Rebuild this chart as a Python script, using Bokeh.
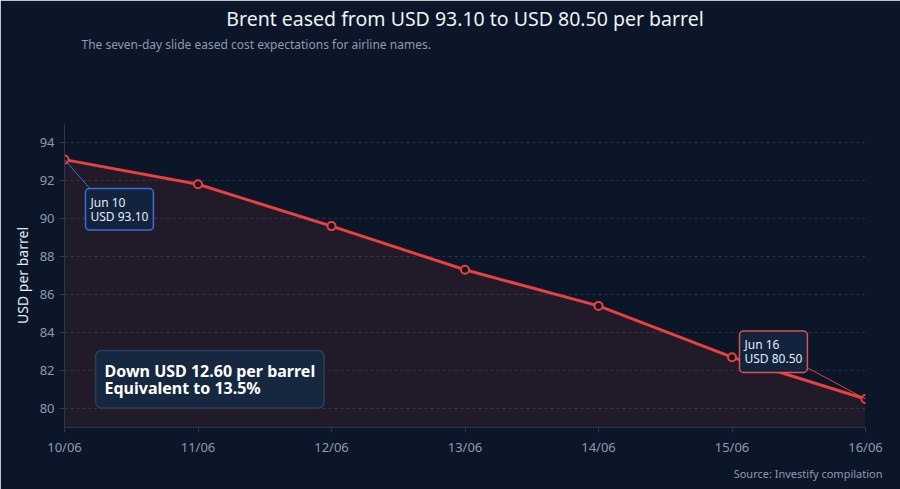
from bokeh.plotting import figure
from bokeh.models import Label, Title, FixedTicker, Range1d
from bokeh.embed import file_html
from bokeh.resources import INLINE

# Brent, USD per barrel, 10/06 -> 16/06
days = [10, 11, 12, 13, 14, 15, 16]
day_labels = ["10/06", "11/06", "12/06", "13/06", "14/06", "15/06", "16/06"]
brent = [93.10, 91.80, 89.60, 87.30, 85.40, 82.70, 80.50]
y_ticks = [80, 82, 84, 86, 88, 90, 92, 94]

BG = "#0b1628"
RED = "#e8413f"
FONT = "Noto Sans"

p = figure(width=900, height=489, output_backend="svg", toolbar_location=None,
           x_range=Range1d(10, 16), y_range=Range1d(79, 95),
           min_border_left=64, min_border_right=35, min_border_top=20, min_border_bottom=62)
p.background_fill_color = BG
p.border_fill_color = BG
# contour de la couleur du fond pour masquer le liseré clair du cadre
p.outline_line_color = BG
p.outline_line_width = 2

# espace vide entre sous-titre et graphique (le premier ajouté est le plus proche)
p.add_layout(Title(text=" ", text_font_size="1px", standoff=67), "above")
sub = Title(text="The seven-day slide eased cost expectations for airline names.",
            align="left", offset=17, text_font=FONT,
            text_font_size="12px", text_font_style="normal", text_color="#8e9aae",
            standoff=1)
p.add_layout(sub, "above")
main = Title(text="Brent eased from USD 93.10 to USD 80.50 per barrel", align="center",
             offset=-14, text_font=FONT, text_font_size="19.5px", text_font_style="normal",
             text_color="#eef2f7", standoff=4)
p.add_layout(main, "above")
src = Title(text="Source: Investify compilation", align="right", offset=-17,
            text_font=FONT, text_font_size="11px", text_font_style="normal",
            text_color="#8e9aae")
p.add_layout(src, "below")

# aire + ligne
p.varea(x=days, y1=[79] * len(days), y2=brent, fill_color=RED, fill_alpha=0.1)
p.line(days, brent, line_color=RED, line_width=3)
p.scatter(days, brent, size=8, fill_color=BG, line_color=RED, line_width=2)

# axes
p.xaxis.ticker = FixedTicker(ticks=days)
p.xaxis.major_label_overrides = dict(zip(days, day_labels))
p.yaxis.ticker = FixedTicker(ticks=y_ticks)
p.yaxis.axis_label = "USD per barrel"
for ax in (p.xaxis, p.yaxis):
    ax.axis_line_color = "#2b3a50"
    ax.major_tick_line_color = "#2b3a50"
    ax.major_tick_in = 0
    ax.major_tick_out = 5
    ax.minor_tick_line_color = None
    ax.major_label_text_color = "#8e9aae"
    ax.major_label_text_font = FONT
    ax.major_label_text_font_size = "13px"
p.yaxis.axis_label_text_color = "#e6ebf2"
p.yaxis.axis_label_text_font = FONT
p.yaxis.axis_label_text_font_size = "14px"
p.yaxis.axis_label_text_font_style = "normal"
p.xgrid.grid_line_color = None
p.ygrid.grid_line_color = "#22314a"
p.ygrid.grid_line_dash = "3 3"

# annotations
p.line([10, 10.19], [brent[0], 91.57], line_color="#3b6fd8", line_width=1)
p.add_layout(Label(x=10, y=brent[0], x_offset=21, y_offset=-29, anchor="top_left",
                   text="Jun 10\nUSD 93.10", text_color="#e6ebf2", text_font=FONT,
                   text_font_size="12px", text_line_height=0.85,
                   background_fill_color="#12233d",
                   border_line_color="#3b6fd8", border_line_width=1.5,
                   padding=5, border_radius=4))
p.line([15.55, 16], [82.2, brent[-1]], line_color=RED, line_width=1)
p.add_layout(Label(x=16, y=brent[-1], x_offset=-126, y_offset=68, anchor="top_left",
                   text="Jun 16\nUSD 80.50", text_color="#e6ebf2", text_font=FONT,
                   text_font_size="12px", text_line_height=0.85,
                   background_fill_color="#12233d",
                   border_line_color="#d9534f", border_line_width=1.5,
                   padding=5, border_radius=4))
p.add_layout(Label(x=10, y=79, x_offset=31, y_offset=77, anchor="top_left",
                   text="Down USD 12.60 per barrel\nEquivalent to 13.5%",
                   text_color="#ffffff", text_font=FONT, text_font_size="16px",
                   text_font_style="bold", text_line_height=0.8,
                   background_fill_color="#15283f",
                   border_line_color="#2c3f58", border_line_width=1.5,
                   padding=9, border_radius=6))

open("out.html", "w").write(file_html(p, INLINE))
